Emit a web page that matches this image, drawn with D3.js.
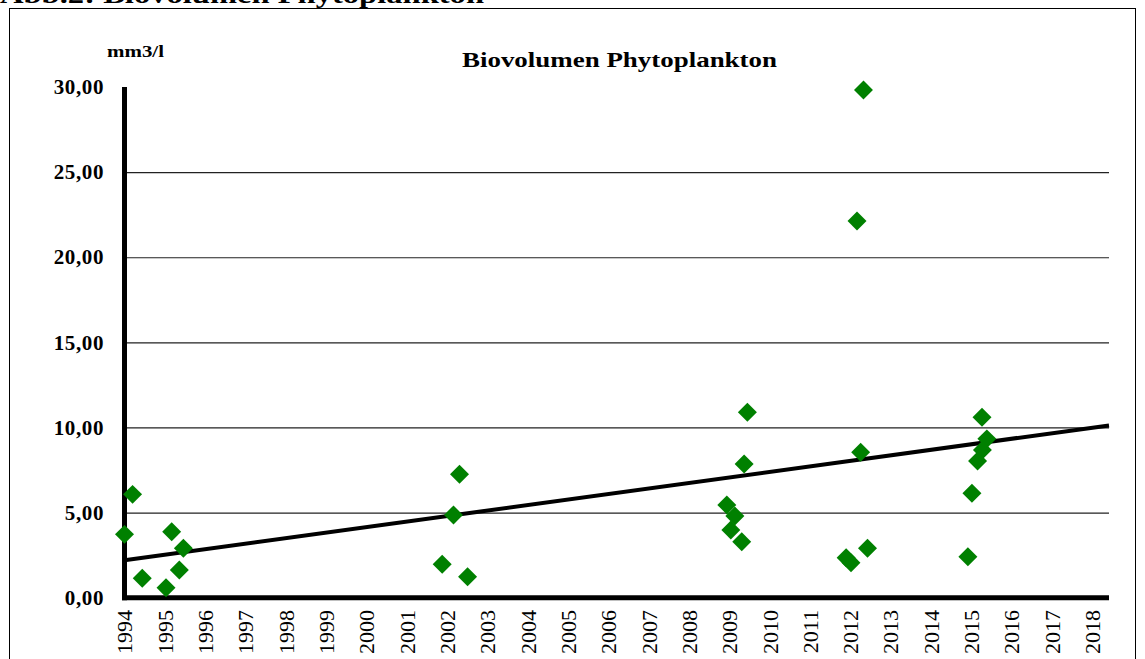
<!DOCTYPE html>
<html lang="de">
<head>
    <meta charset="utf-8">
    <title>Biovolumen Phytoplankton</title>
    <script src="https://d3js.org/d3.v7.min.js"></script>
    <style>
        body { margin: 0; background: #fff; }
        svg { display: block; font-family: "Liberation Serif", "Times New Roman", serif; }
    </style>
</head>
<body>
<svg width="1145" height="659" id="mainsvg"></svg>

<script>
    // sample dates (decimal years) and biovolume values in mm3/l
    const years = [1994.0, 1994.2, 1994.44, 1995.03, 1995.17, 1995.36, 1995.46,
        2001.88, 2002.16, 2002.31, 2002.51,
        2008.94, 2009.04, 2009.14, 2009.31, 2009.37, 2009.45,
        2011.9, 2012.02, 2012.17, 2012.26, 2012.33, 2012.43,
        2014.92, 2015.02, 2015.16, 2015.27, 2015.28, 2015.39]
    const values = [3.72, 6.07, 1.14, 0.59, 3.88, 1.63, 2.90,
        1.96, 4.86, 7.25, 1.23,
        5.45, 3.98, 4.80, 3.29, 7.86, 10.89,
        2.35, 2.05, 22.13, 8.54, 29.83, 2.90,
        2.41, 6.13, 8.03, 10.60, 8.68, 9.33]

    // linear trend, start and end
    const trendYears = [1994, 2018.42]
    const trendValues = [2.2, 10.12]

    const yearTicks = d3.range(1994, 2019)
    const valueTicks = [0, 5, 10, 15, 20, 25, 30]
    const gridTicks = [5, 10, 15, 20, 25]

    const svg = d3.select('#mainsvg')

    const xScale = d3.scaleLinear().domain([1994, 2018.42]).range([124.5, 1109])
    const yScale = d3.scaleLinear().domain([0, 30]).range([597.7, 87])

    // frame + caption above it (cut off at the top)
    svg.append('rect')
        .attr('x', 9.5).attr('y', 8.5)
        .attr('width', 1126).attr('height', 700)
        .attr('fill', 'none').attr('stroke', '#000').attr('stroke-width', 1)

    svg.append('text')
        .text('Abb.2: Biovolumen Phytoplankton')
        .attr('x', 0).attr('y', 3)
        .attr('font-size', 26).attr('font-weight', 'bold')
        .attr('textLength', 484).attr('lengthAdjust', 'spacingAndGlyphs')

    // titles
    svg.append('text')
        .text('Biovolumen Phytoplankton')
        .attr('x', 462).attr('y', 67)
        .attr('font-size', 22).attr('font-weight', 'bold')
        .attr('textLength', 315).attr('lengthAdjust', 'spacingAndGlyphs')

    svg.append('text')
        .text('mm3/l')
        .attr('x', 107).attr('y', 57)
        .attr('font-size', 17).attr('font-weight', 'bold')
        .attr('textLength', 57).attr('lengthAdjust', 'spacingAndGlyphs')

    // grid lines
    const grid = svg.append('g')
        .attr('transform', `translate(${xScale(1994)}, 0)`)
        .call(d3.axisLeft(yScale).tickValues(gridTicks)
            .tickSize(-(xScale.range()[1] - xScale(1994))).tickFormat(''))
    grid.select('.domain').remove()
    grid.selectAll('.tick line').attr('stroke', '#222').attr('stroke-width', 1.2)

    // y axis labels
    const fmt = d => d3.format('.2f')(d).replace('.', ',')
    const yAxisG = svg.append('g')
        .attr('transform', `translate(104, 0)`)
        .call(d3.axisLeft(yScale).tickValues(valueTicks).tickSize(0).tickPadding(0).tickFormat(fmt))
    yAxisG.select('.domain').remove()
    yAxisG.selectAll('.tick text')
        .attr('font-family', '"Liberation Serif", serif')
        .attr('font-size', 21).attr('font-weight', 'bold').attr('fill', '#000')
        .attr('letter-spacing', 0.6)
        .attr('dy', '0.32em')

    // x axis labels (rotated years)
    const xAxisG = svg.append('g')
        .attr('transform', `translate(0, 610)`)
        .call(d3.axisBottom(xScale).tickValues(yearTicks).tickSize(0).tickFormat(d3.format('d')))
    xAxisG.select('.domain').remove()
    xAxisG.selectAll('.tick text')
        .attr('font-family', '"Liberation Serif", serif')
        .attr('font-size', 22).attr('fill', '#000')
        .attr('transform', 'rotate(-90)')
        .attr('text-anchor', 'end')
        .attr('x', 0).attr('y', 0)
        .attr('dy', '0.34em')

    // thick axis lines
    svg.append('line')
        .attr('x1', xScale(1994)).attr('x2', xScale(1994))
        .attr('y1', yScale(30)).attr('y2', yScale(0) + 2.5)
        .attr('stroke', '#000').attr('stroke-width', 5)
    svg.append('line')
        .attr('x1', xScale(1994) - 2.5).attr('x2', xScale.range()[1])
        .attr('y1', yScale(0)).attr('y2', yScale(0))
        .attr('stroke', '#000').attr('stroke-width', 5)

    // trend line
    const line = d3.line().x(d => xScale(d[0])).y(d => yScale(d[1]))
    svg.append('path')
        .datum(trendYears.map((t, i) => [t, trendValues[i]]))
        .attr('d', line)
        .attr('fill', 'none').attr('stroke', '#000').attr('stroke-width', 4)

    // points
    const diamond = d3.symbol().type(d3.symbolSquare).size(180)
    svg.append('g').selectAll('path')
        .data(years.map((t, i) => [t, values[i]]))
        .join('path')
        .attr('d', diamond)
        .attr('transform', d => `translate(${xScale(d[0])}, ${yScale(d[1])}) rotate(45)`)
        .attr('fill', '#008000')
</script>
</body>
</html>
